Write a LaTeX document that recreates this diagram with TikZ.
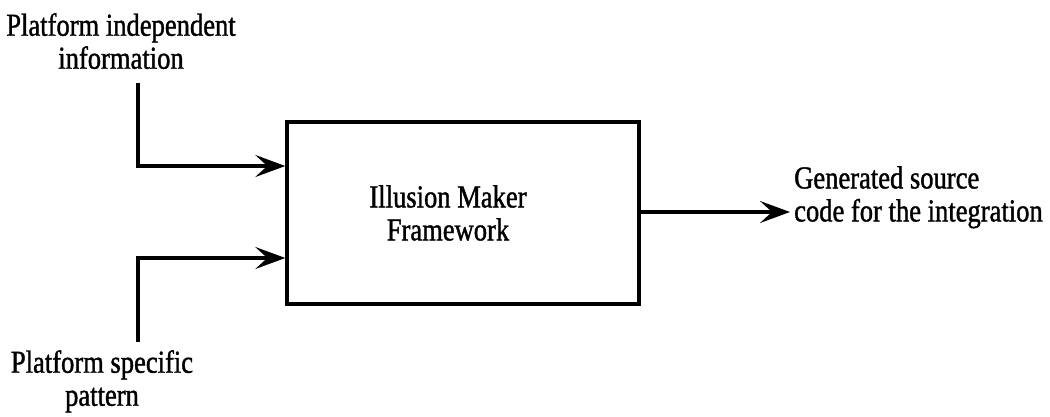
\documentclass[tikz,border=0pt]{standalone}
\usepackage{fontspec}
\setmainfont[FakeStretch=0.83,FakeBold=1.2]{Liberation Serif}
\usetikzlibrary{arrows.meta}
\begin{document}
\begin{tikzpicture}[x=1pt,y=-1pt,
  txt/.style={inner sep=0pt,align=center,font=\fontsize{32}{33}\selectfont},
  link/.style={line width=3.2pt,-{Stealth[length=30pt,width=22pt,inset=12pt]}},
  block/.style={draw,line width=3.4pt,minimum width=352pt,minimum height=182pt,inner sep=0pt}]
\useasboundingbox (0,0) rectangle (1050,416);

% framework block and its caption
\node[block] (fw) at (463,213) {};
\node[txt,anchor=north] (fwtext) at (448,185) {Illusion Maker\\Framework};

% inputs
\node[txt,anchor=north] (pin) at (121,13) {Platform independent\\information};
\node[txt,anchor=north] (psp) at (102,350) {Platform specific\\pattern};
\coordinate (pinend) at (138,83);
\coordinate (pspend) at (138,342);
\draw[link] (pinend) |- (fw.west |- 0,166);
\draw[link] (pspend) |- (fw.west |- 0,258);

% output
\node[txt,anchor=north west,align=left] (out) at (794,166) {Generated source\\code for the integration};
\coordinate (outend) at (790,212);
\draw[link] (fw.east |- outend) -- (outend);
\end{tikzpicture}
\end{document}
